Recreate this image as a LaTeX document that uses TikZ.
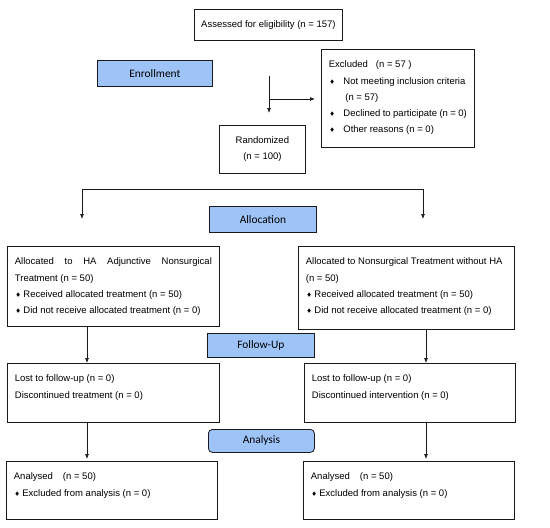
\documentclass[tikz,border=0pt]{standalone}
\usepackage{amssymb}
\usepackage{fontspec}
\setmainfont{Liberation Sans}
\newfontfamily\bandfont{Carlito}
\usepackage{tikz}
\usetikzlibrary{positioning, calc, arrows.meta}
\definecolor{cblue}{HTML}{9DC3F7}
\definecolor{cdark}{HTML}{1A1A1A}
\newcommand{\bul}{\raisebox{1pt}{\tiny$\blacklozenge$}}
\newcommand{\bitem}[1]{\makebox[#1][l]{\hspace{1pt}\bul}}
\newcommand{\boxtext}[3]{\parbox[t][#2][t]{#1}{\rule{0pt}{18.5pt}#3}}
\tikzset{
  txtbox/.style={draw=cdark, line width=0.8pt, anchor=north west,
    inner xsep=7.5pt, inner ysep=0pt, font=\fontsize{9.5}{16.2}\selectfont},
  plainbox/.style={draw=cdark, line width=0.8pt, anchor=north west,
    inner sep=0pt, align=center, font=\fontsize{9.5}{16.2}\selectfont},
  phase/.style={draw=cdark, fill=cblue, line width=0.8pt, anchor=north west,
    inner sep=0pt, font=\bandfont\fontsize{11.4}{13}\selectfont},
  arr/.style={-{Latex[length=5pt, width=4pt]}, line width=0.7pt, cdark},
}

\begin{document}
\begin{tikzpicture}[x=1pt, y=-1pt]
\useasboundingbox (0,0) rectangle (550,528);

% enrollment
\node[plainbox, minimum width=148pt, minimum height=31pt] (assess) at (194,9) {Assessed for eligibility (n = 157)};
\node[phase, minimum width=115pt, minimum height=26pt] (enroll) at (97,60) {Enrollment};
\node[txtbox] (excl) at (321,49) {\boxtext{138pt}{98pt}{Excluded\hspace{8pt}(n = 57 )\\
\bitem{14.5pt}Not meeting inclusion criteria\\
\hspace*{16.5pt}(n = 57)\\
\bitem{14.5pt}Declined to participate (n = 0)\\
\bitem{14.5pt}Other reasons (n = 0)}};
\node[plainbox, minimum width=86pt, minimum height=48pt] (rand) at (219,125) {Randomized\\(n = 100)};

\coordinate (split) at (269,76);
\coordinate (branch) at (269,99);
\draw[arr, shorten >=12pt] (split) -- (split |- rand.north);
\draw[arr, shorten >=6pt] (branch) -- (branch -| excl.west);

% allocation
\node[phase, minimum width=107pt, minimum height=26pt] (alloc) at (209,206) {Allocation};
\node[txtbox] (lalloc) at (7,246) {\boxtext{197pt}{80pt}{Allocated\hfill to\hfill HA\hfill Adjunctive\hfill Nonsurgical\\
Treatment (n = 50)\\
\bitem{8.5pt}Received allocated treatment (n = 50)\\
\bitem{8.5pt}Did not receive allocated treatment (n = 0)}};
\node[txtbox] (ralloc) at (298,246) {\boxtext{201pt}{83pt}{Allocated to Nonsurgical Treatment without HA\\
(n = 50)\\
\bitem{8.5pt}Received allocated treatment (n = 50)\\
\bitem{8.5pt}Did not receive allocated treatment (n = 0)}};

\coordinate (aleft) at (82,189);
\coordinate (aright) at (423,189);
\draw[cdark, line width=0.7pt] (aleft) -- (aright);
\draw[arr, shorten >=27pt] (aleft) -- (aleft |- lalloc.north);
\draw[arr, shorten >=27pt] (aright) -- (aright |- ralloc.north);

% follow-up
\node[phase, minimum width=107pt, minimum height=24pt] (follow) at (207,333) {Follow-Up};
\node[txtbox] (lfol) at (7,363) {\boxtext{197pt}{59pt}{Lost to follow-up (n = 0)\\
Discontinued treatment (n = 0)}};
\node[txtbox] (rfol) at (304,363) {\boxtext{196pt}{59pt}{Lost to follow-up (n = 0)\\
Discontinued intervention (n = 0)}};

\coordinate (lcol) at (87,0);
\coordinate (rcol) at (426,0);
\draw[arr] (lcol |- lalloc.south) -- (lcol |- lfol.north);
\draw[arr] (rcol |- ralloc.south) -- (rcol |- rfol.north);

% analysis
\node[phase, rounded corners=4pt, minimum width=106pt, minimum height=23pt] (analysis) at (208,429) {Analysis};
\node[txtbox] (lana) at (6,461) {\boxtext{196pt}{58pt}{Analysed\hspace{10pt}(n = 50)\\
\bitem{8.5pt}Excluded from analysis (n = 0)}};
\node[txtbox] (rana) at (303,461) {\boxtext{196pt}{58pt}{Analysed\hspace{10pt}(n = 50)\\
\bitem{8.5pt}Excluded from analysis (n = 0)}};

\draw[arr, shorten >=2pt] (lcol |- lfol.south) -- (lcol |- lana.north);
\draw[arr, shorten >=2pt] (rcol |- rfol.south) -- (rcol |- rana.north);

\end{tikzpicture}
\end{document}
